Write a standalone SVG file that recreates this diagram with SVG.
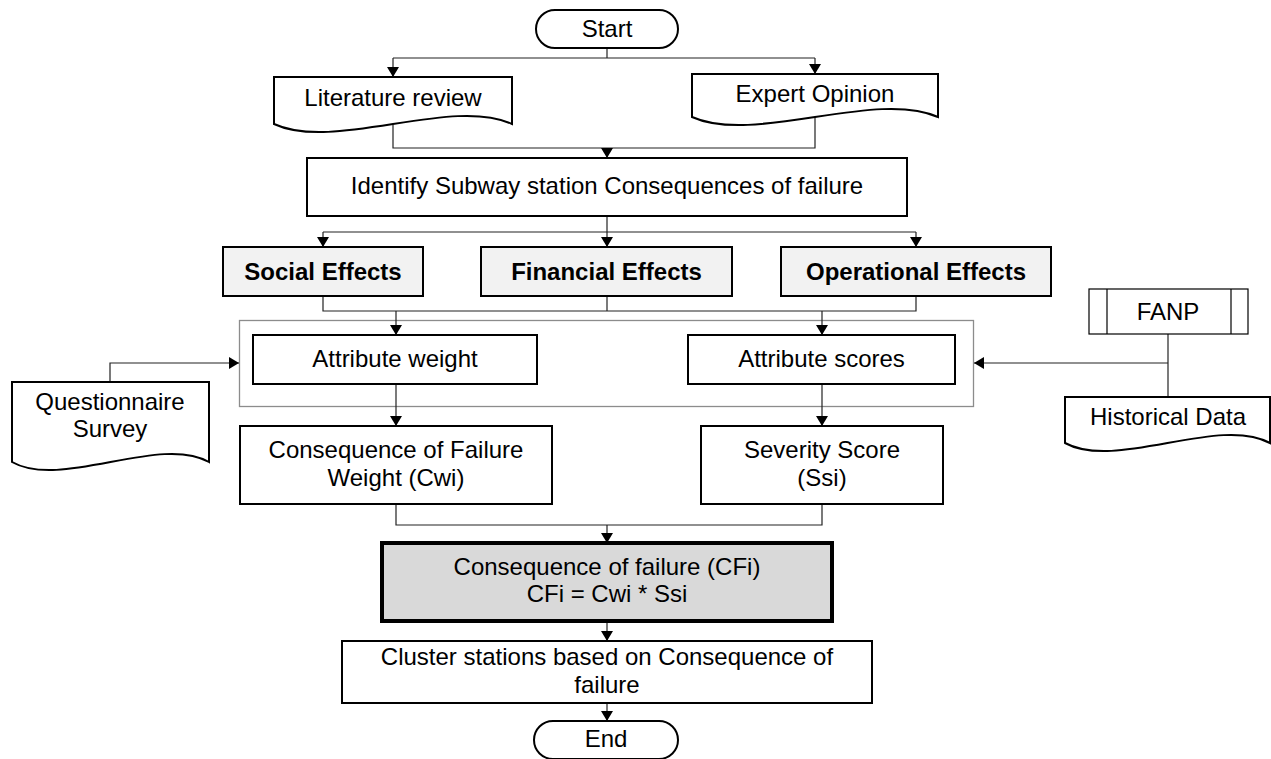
<svg xmlns="http://www.w3.org/2000/svg" width="1271" height="759" viewBox="0 0 1271 759">
<style>
text{font-family:"Liberation Sans",Arial,sans-serif;font-size:24px;fill:#000;text-anchor:middle}
.b{font-weight:bold}
.box{fill:#fff;stroke:#000;stroke-width:2}
.eff{fill:#f2f2f2;stroke:#000;stroke-width:2}
.key{fill:#d9d9d9;stroke:#000;stroke-width:4}
.thin{fill:#fff;stroke:#000;stroke-width:1.2}
.cont{fill:none;stroke:#8c8c8c;stroke-width:1.3}
.c{fill:none;stroke:#222;stroke-width:1.2}
.a{marker-end:url(#ah)}
</style>
<defs>
<marker id="ah" markerUnits="userSpaceOnUse" markerWidth="12" markerHeight="12" refX="10" refY="6" orient="auto">
<path d="M0,0 L10,6 L0,12 Z" fill="#000"/>
</marker>
</defs>
<rect x="0" y="0" width="1271" height="759" fill="#fff"/>

<g id="container"><rect class="cont" x="239.5" y="320.5" width="734" height="86"/></g>

<g id="connectors">
<polyline class="c" points="607,48 607,58"/>
<polyline class="c" points="393,58 815,58"/>
<line class="c a" x1="393" y1="58" x2="393" y2="77"/>
<line class="c a" x1="815" y1="58" x2="815" y2="74"/>
<polyline class="c" points="393,125 393,148 815,148 815,117"/>
<line class="c a" x1="607" y1="148" x2="607" y2="158"/>
<polyline class="c" points="607,216 607,232"/>
<polyline class="c" points="323,232 916,232"/>
<line class="c a" x1="323" y1="232" x2="323" y2="247"/>
<line class="c a" x1="607" y1="232" x2="607" y2="247"/>
<line class="c a" x1="916" y1="232" x2="916" y2="247"/>
<polyline class="c" points="323,296 323,311 916,311 916,296"/>
<line class="c" x1="607" y1="296" x2="607" y2="311"/>
<line class="c a" x1="396" y1="311" x2="396" y2="335"/>
<line class="c a" x1="822" y1="311" x2="822" y2="335"/>
<polyline class="c a" points="110,382 110,363 239,363"/>
<line class="c" x1="1168" y1="334" x2="1168" y2="397"/>
<line class="c a" x1="1168" y1="363" x2="974" y2="363"/>
<line class="c a" x1="396" y1="384" x2="396" y2="426"/>
<line class="c a" x1="822" y1="384" x2="822" y2="426"/>
<polyline class="c" points="396,504 396,525 822,525 822,504"/>
<line class="c a" x1="607" y1="525" x2="607" y2="543"/>
<line class="c a" x1="607" y1="621" x2="607" y2="641"/>
<line class="c a" x1="607" y1="703" x2="607" y2="721"/>
</g>

<g id="start"><rect class="box" x="536" y="10" width="142" height="38" rx="19"/><text x="607" y="37">Start</text></g>
<g id="literature"><path class="box" d="M274,77 H512 V124 C452,96 334,152 274,124 Z"/><text x="393" y="106">Literature review</text></g>
<g id="expert"><path class="box" d="M692,74 H938 V117 C876,89 754,145 692,117 Z"/><text x="815" y="102">Expert Opinion</text></g>
<g id="identify"><rect class="box" x="307" y="158" width="600" height="58"/><text x="607" y="194">Identify Subway station Consequences of failure</text></g>
<g id="social"><rect class="eff" x="223" y="247" width="200" height="49"/><text class="b" x="323" y="280">Social Effects</text></g>
<g id="financial"><rect class="eff" x="481" y="247" width="251" height="49"/><text class="b" x="606.5" y="280">Financial Effects</text></g>
<g id="operational"><rect class="eff" x="781" y="247" width="270" height="49"/><text class="b" x="916" y="280">Operational Effects</text></g>
<g id="attr-weight"><rect class="box" x="253" y="335" width="284" height="49"/><text x="395" y="367">Attribute weight</text></g>
<g id="attr-scores"><rect class="box" x="688" y="335" width="267" height="49"/><text x="821.5" y="367">Attribute scores</text></g>
<g id="questionnaire"><path class="box" d="M12,382 H209 V462 C160,434 61,490 12,462 Z"/><text x="110" y="410">Questionnaire</text><text x="110" y="437">Survey</text></g>
<g id="fanp"><rect class="thin" x="1089" y="289" width="159" height="45"/><line class="thin" x1="1107" y1="289" x2="1107" y2="334"/><line class="thin" x1="1231" y1="289" x2="1231" y2="334"/><text x="1168" y="320">FANP</text></g>
<g id="historical"><path class="box" d="M1065,397 H1270 V443 C1219,415 1116,471 1065,443 Z"/><text x="1168" y="425">Historical Data</text></g>
<g id="cwi"><rect class="box" x="240" y="426" width="312" height="78"/><text x="396" y="458">Consequence of Failure</text><text x="396" y="486">Weight (Cwi)</text></g>
<g id="ssi"><rect class="box" x="701" y="426" width="242" height="78"/><text x="822" y="458">Severity Score</text><text x="822" y="486">(Ssi)</text></g>
<g id="cfi"><rect class="key" x="382" y="543" width="450" height="78"/><text x="607" y="575">Consequence of failure (CFi)</text><text x="607" y="602">CFi = Cwi * Ssi</text></g>
<g id="cluster"><rect class="box" x="342" y="641" width="530" height="62"/><text x="607" y="665">Cluster stations based on Consequence of</text><text x="607" y="693">failure</text></g>
<g id="end"><rect class="box" x="534" y="721" width="144" height="38" rx="19"/><text x="606" y="747">End</text></g>
</svg>
